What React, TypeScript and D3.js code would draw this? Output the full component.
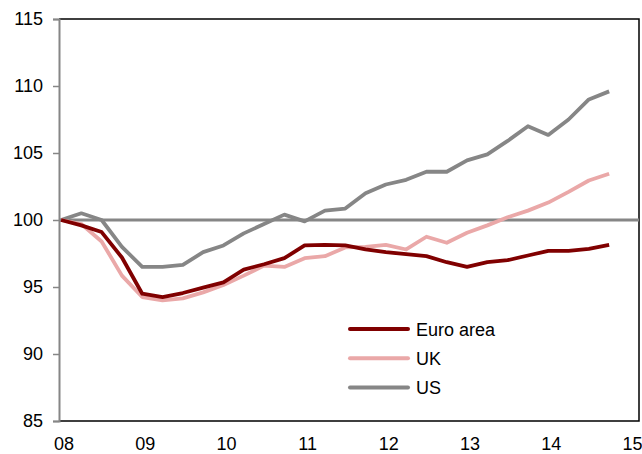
import React, { useEffect, useRef } from "react"
import * as d3 from "d3"

// quarterly, 2008Q1 .. 2014Q4, index 2008Q1 = 100
const quarters = d3.range(28)
const euroArea = [100, 99.6, 99.1, 97.2, 94.5, 94.25, 94.55, 94.95, 95.35, 96.3, 96.7, 97.15, 98.1, 98.15, 98.1, 97.8, 97.6, 97.45, 97.3, 96.85, 96.5, 96.85, 97.0, 97.35, 97.7, 97.7, 97.85, 98.15]
const uk = [100, 99.7, 98.4, 95.85, 94.25, 94.0, 94.15, 94.6, 95.15, 95.85, 96.6, 96.5, 97.15, 97.3, 97.95, 98.0, 98.15, 97.8, 98.75, 98.3, 99.05, 99.6, 100.2, 100.7, 101.3, 102.1, 102.95, 103.45]
const us = [100, 100.5, 100.0, 98.0, 96.5, 96.5, 96.65, 97.6, 98.1, 99.0, 99.7, 100.4, 99.9, 100.7, 100.85, 102.0, 102.65, 103.0, 103.6, 103.6, 104.45, 104.9, 105.9, 107.0, 106.35, 107.5, 109.0, 109.6]
const yearLabels = ["08", "09", "10", "11", "12", "13", "14", "15"]
const yTicks = [85, 90, 95, 100, 105, 110, 115]

const seriesNames = ["Euro area", "UK", "US"]
const seriesColors = ["#800000", "#eaa8a8", "#868686"]

export default function App() {
  const ref = useRef<SVGSVGElement>(null)

  useEffect(() => {
    const svg = d3.select(ref.current)
    svg.selectAll("*").remove()

    const left = 59, right = 639, top = 19, bottom = 421
    const x = d3.scaleLinear().domain([-0.1, 28.47]).range([left, right])
    const y = d3.scaleLinear().domain([85, 115]).range([bottom, top])
    const font = "Arial, 'Liberation Sans', sans-serif"

    // frame: top, right, bottom black
    svg.append("path")
      .attr("d", `M${left},${top}H${right}V${bottom}H${left}`)
      .attr("fill", "none").attr("stroke", "#000").attr("stroke-width", 1.5)

    // left axis
    const yAxis = d3.axisLeft(y).tickValues(yTicks).tickSize(6).tickPadding(10)
    const gy = svg.append("g").attr("transform", `translate(${left},0)`).call(yAxis)
    gy.select(".domain").attr("stroke", "#868686").attr("stroke-width", 2)
    gy.selectAll(".tick line").attr("stroke", "#868686").attr("stroke-width", 1.5)
    gy.selectAll(".tick text")
      .attr("fill", "#000").style("font-family", font).style("font-size", "18px")

    // x labels
    svg.append("g").selectAll("text")
      .data(yearLabels)
      .enter().append("text")
      .attr("x", (d, i) => x(i * 4) + 3)
      .attr("y", 450)
      .attr("text-anchor", "middle")
      .style("font-family", font).style("font-size", "18px")
      .text(d => d)

    // 100 line
    svg.append("line")
      .attr("x1", left).attr("x2", right)
      .attr("y1", y(100)).attr("y2", y(100))
      .attr("stroke", "#868686").attr("stroke-width", 3)

    const line = d3.line<number>()
      .x((d, i) => x(quarters[i]))
      .y(d => y(d))

    const all = [euroArea, uk, us]
    // draw US first, then UK, then Euro on top
    ;[2, 1, 0].forEach(k => {
      svg.append("path")
        .attr("d", line(all[k]))
        .attr("fill", "none")
        .attr("stroke", seriesColors[k])
        .attr("stroke-width", 3.8)
        .attr("stroke-linejoin", "round")
    })

    // legend
    const lg = svg.append("g")
    seriesNames.forEach((name, i) => {
      const ly = 329 + i * 29.3
      lg.append("line")
        .attr("x1", 350).attr("x2", 408)
        .attr("y1", ly).attr("y2", ly)
        .attr("stroke", seriesColors[i]).attr("stroke-width", 4)
        .attr("stroke-linecap", "round")
      lg.append("text")
        .attr("x", 416).attr("y", ly + 6.5)
        .style("font-family", font).style("font-size", "18px")
        .text(name)
    })
  }, [])

  return (
    <svg ref={ref} width={642} height={454}
      style={{ position: "absolute", left: 0, top: 0, background: "#fff" }} />
  )
}
